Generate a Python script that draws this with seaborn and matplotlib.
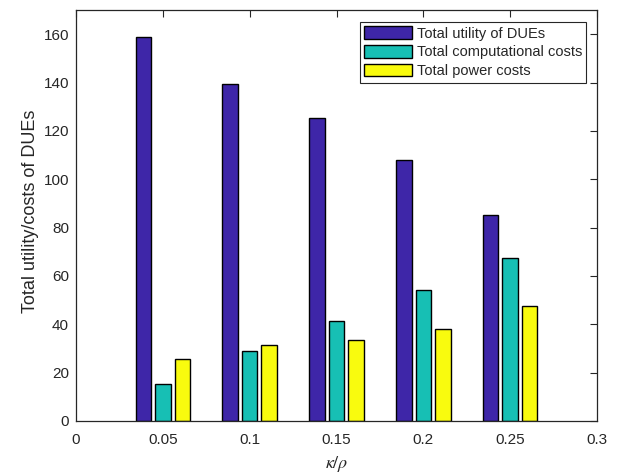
import matplotlib
matplotlib.use("Agg")
import matplotlib.pyplot as plt
import seaborn as sns
import pandas as pd

# kappa/rho ratios and the three totals for each
ratios = [0.05, 0.10, 0.15, 0.20, 0.25]
utility = [158.8, 139.5, 125.2, 108.0, 85.0]
comp_costs = [15.5, 28.9, 41.3, 54.0, 67.4]
power_costs = [25.8, 31.4, 33.5, 38.0, 47.7]
series_names = ["Total utility of DUEs", "Total computational costs", "Total power costs"]
x_ticks = [0, 0.05, 0.1, 0.15, 0.2, 0.25, 0.3]
x_tick_labels = ["0", "0.05", "0.1", "0.15", "0.2", "0.25", "0.3"]
y_ticks = [0, 20, 40, 60, 80, 100, 120, 140, 160]

colors = ["#3E26A8", "#17BFB4", "#F9FB0E"]

df = pd.DataFrame({
    "ratio": ratios * 3,
    "value": utility + comp_costs + power_costs,
    "series": [series_names[0]] * 5 + [series_names[1]] * 5 + [series_names[2]] * 5,
})

sns.set_style("white")
plt.rcParams["font.family"] = ["Liberation Sans", "DejaVu Sans"]
plt.rcParams["mathtext.fontset"] = "stix"

fig = plt.figure(figsize=(6.21, 4.76), dpi=100)
ax = fig.add_axes([76 / 621, 1 - 421 / 476, 521 / 621, 411 / 476])

sns.barplot(
    data=df, x="ratio", y="value", hue="series", hue_order=series_names,
    palette=colors, native_scale=True, width=0.672, gap=0.2,
    edgecolor="black", linewidth=1.0, saturation=1, errorbar=None, ax=ax,
)

ax.set_xlim(0, 0.3)
ax.set_ylim(0, 170)
ax.set_xticks(x_ticks)
ax.set_xticklabels(x_tick_labels)
ax.set_yticks(y_ticks)
ax.tick_params(direction="in", length=5, width=0.8, colors="#262626",
               labelsize=11, top=True, right=True)
ax.tick_params(axis="x", pad=8.5)
ax.tick_params(axis="y", pad=5)
for lab in ax.get_xticklabels() + ax.get_yticklabels():
    lab.set_color("#262626")
for s in ax.spines.values():
    s.set_visible(True)
    s.set_color("#262626")
    s.set_linewidth(0.9)

ax.set_xlabel(r"$\kappa/\rho$", fontsize=13, color="#262626", labelpad=5.5)
ax.set_ylabel("Total utility/costs of DUEs", fontsize=13, color="#262626", labelpad=6)
ax.yaxis.set_label_coords(-0.071, 0.51)

leg = ax.legend(
    loc="upper right", bbox_to_anchor=(0.9795, 0.9705), fancybox=False,
    edgecolor="#262626", framealpha=1, fontsize=10.5, handlelength=3.3,
    handleheight=0.95, handletextpad=0.3, labelspacing=0.3, borderpad=0.3,
    borderaxespad=0,
)
leg.get_frame().set_linewidth(0.8)

fig.savefig("out.png", dpi=100)
